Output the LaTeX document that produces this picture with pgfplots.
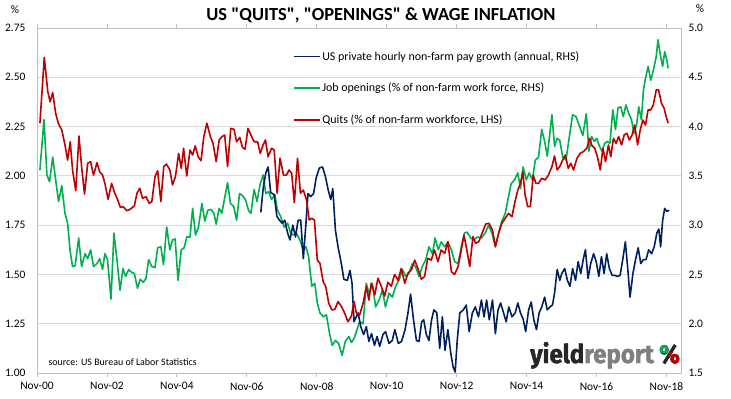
\documentclass[border=0pt]{standalone}
\usepackage{pgfplots}
\pgfplotsset{compat=1.18}
\usepackage{fontspec}
\setmainfont{Carlito}
\newfontfamily\logofont{Fira Sans}[FakeStretch=0.93, BoldFeatures={FakeBold=1.6, FakeStretch=0.93}]
\definecolor{navy}{HTML}{002060}
\definecolor{xgreen}{HTML}{00B050}
\definecolor{xred}{HTML}{C00000}
\definecolor{gridgrey}{HTML}{D9D9D9}
\definecolor{framegrey}{HTML}{BFBFBF}
\definecolor{logogrey}{HTML}{7F7F7F}
\definecolor{logodark}{HTML}{262626}

\pgfplotsset{
  common/.style={
    at={(37bp,25bp)}, anchor=south west,
    width=644bp, height=345bp, scale only axis,
    xmin=0, xmax=221,
    xtick={0,24,...,216},
    axis line style={framegrey, line width=0.8bp},
    ytick style={draw=none},
    tick label style={font=\fontsize{11.5}{13}\selectfont, text=black},
    /pgf/number format/assume math mode=true,
    /pgf/number format/fixed,
    /pgf/number format/fixed zerofill,
    clip=false,
  },
  ser/.style={line width=1.6bp, line join=round},
}

\begin{document}
\begin{tikzpicture}[x=1bp,y=1bp]
\path[use as bounding box] (0,0) rectangle (731,398);

% ---------- right axis: job openings and wage growth ----------
\begin{axis}[common,
  ymin=1.5, ymax=5, ytick={1.5,2,...,5},
  yticklabel pos=right,
  /pgf/number format/precision=1,
  ymajorgrids, grid style={gridgrey, line width=0.8bp},
  xticklabels={}, xtick style={draw=none},
  yticklabel style={xshift=4bp},
]
\addplot[ser, xgreen] coordinates {
(1,3.56) (2.4,4.07) (3.4,3.51) (4.3,3.44) (5.4,3.69) (6.4,3.46) (7.4,3.24) (8.5,3.40) (9.6,3.12) (10.5,3.02)
(11.4,2.73) (12.2,2.58) (13.1,2.59) (14.3,2.87) (15.3,2.58) (16.5,2.71) (17.4,2.66) (18.4,2.75) (19.4,2.58) (20.6,2.61)
(21.5,2.66) (22.5,2.55) (23.3,2.71) (24.2,2.65) (25.4,2.25) (26.4,2.92) (27.4,2.66) (28.5,2.34) (29.5,2.56) (30.4,2.48)
(31.5,2.55) (32.5,2.52) (33.4,2.51) (34.5,2.36) (35.4,2.45) (36.5,2.42) (37.4,2.46) (38.3,2.65) (39.4,2.58) (40.5,2.57)
(41.4,2.77) (42.5,2.78) (43.4,2.60) (44.5,2.98) (45.6,2.75) (46.5,2.85) (47.4,2.86) (48.4,2.44) (49.5,2.75) (50.5,2.77)
(51.4,2.88) (52.5,2.88) (53.4,3.17) (54.4,2.90) (55.4,2.98) (56.6,3.22) (57.6,3.04) (58.6,3.15) (59.7,3.16) (60.7,3.12)
(61.5,3.01) (62.5,3.17) (63.4,3.12) (64.3,3.26) (65.4,3.43) (66.4,3.22) (67.5,3.19) (68.5,3.05) (69.5,3.32) (70.5,3.30)
(71.5,3.26) (72.6,3.15) (73.4,3.12) (74.5,3.36) (75.5,3.24) (76.6,3.42) (77.6,3.51) (78.5,3.32) (79.5,3.34) (80.5,3.26)
(81.6,3.31) (82.5,3.15) (83.6,3.09) (84.8,2.98) (86,3.02) (87,2.92) (88,2.90) (89,2.92) (90.2,2.85) (91.3,2.75)
(92.3,2.78) (93.2,2.68) (94.3,2.38) (95.3,2.41) (96.2,2.21) (97.1,2.11) (98.2,2.07) (99.3,2.09) (100.4,1.90) (101.3,1.78)
(102.4,1.83) (103.5,1.80) (104.7,1.68) (105.8,1.82) (107,1.87) (107.9,1.81) (108.8,1.85) (109.6,1.92) (110.7,2.02) (111.9,2.00)
(113,2.41) (113.9,2.31) (115.1,2.41) (116.2,2.17) (117.4,2.24) (118.5,2.34) (119.6,2.17) (120.8,2.31) (121.9,2.27) (123.1,2.38)
(124.2,2.44) (125.4,2.55) (126.5,2.48) (127.6,2.51) (128.8,2.61) (129.9,2.58) (131.1,2.48) (132.2,2.58) (133.4,2.65) (134.5,2.78)
(135.7,2.71) (136.6,2.87) (137.7,2.75) (138.7,2.83) (139.9,2.78) (141,2.83) (142.2,2.75) (143.3,2.63) (144.5,2.61) (145.6,2.78)
(146.7,2.92) (147.6,2.93) (148.8,2.87) (149.9,2.85) (151.1,2.88) (152.5,2.87) (153.8,2.92) (155,3.00) (156.1,2.92) (157.3,2.78)
(158.4,2.92) (159.5,3.04) (160.7,3.12) (161.6,3.26) (162.7,3.42) (163.9,3.46) (165,3.53) (165.9,3.37) (166.8,3.59) (167.9,3.46)
(168.9,3.53) (170,3.46) (171,3.66) (172.1,3.69) (173.2,3.97) (174.2,3.85) (175.1,3.70) (175.9,3.91) (176.7,4.12) (177.6,3.80)
(178.5,3.88) (179.4,3.86) (180.4,3.69) (181.5,3.66) (182.7,3.90) (183.8,4.12) (185,4.10) (186.2,4.00) (187.3,3.91) (188.5,4.13)
(189.4,3.75) (190.3,3.90) (191.2,3.85) (192.1,3.88) (193,3.80) (193.9,3.75) (194.8,3.83) (195.7,3.85) (196.6,3.83) (197.6,4.17)
(198.5,3.97) (199.4,4.19) (200.3,4.20) (201.2,4.10) (202.1,4.22) (203.1,4.13) (204,4.07) (204.9,3.93) (205.8,4.03) (206.5,4.20)
(207.4,4.07) (208.1,4.37) (208.8,4.49) (209.7,4.61) (210.6,4.47) (211.5,4.57) (212.5,4.71) (213.1,4.88) (214,4.71) (214.7,4.61)
(215.4,4.76) (216.1,4.68) (216.6,4.59)
};
\addplot[ser, navy] coordinates {
(76.8,3.13) (77.6,3.37) (78.5,3.53) (79.3,3.59) (80.2,3.33) (81.4,3.31) (82.3,3.09) (83.2,3.05) (84.1,3.02) (85,3.05)
(86,2.92) (86.8,2.85) (87.8,3.00) (88.7,2.88) (89.6,3.05) (90.5,3.05) (91.4,2.66) (92.2,2.98) (93,3.32) (93.9,3.29)
(94.9,3.32) (95.8,3.48) (96.9,3.58) (98,3.59) (99,3.49) (99.9,3.36) (100.8,3.26) (101.5,3.37) (102.4,2.95) (103.3,2.78)
(104.5,2.60) (105.3,2.45) (106.5,2.44) (107.4,2.54) (108.1,2.41) (108.8,2.02) (109.1,2.04) (110.2,2.11) (111.1,1.97) (112.1,1.89)
(113,1.97) (113.9,1.82) (114.8,1.90) (115.8,1.78) (116.7,1.87) (117.6,1.77) (118.7,1.89) (119.6,1.92) (120.8,1.80) (121.9,1.83)
(122.8,1.94) (124,1.80) (125.1,1.82) (126.3,1.94) (127.3,2.11) (128.2,2.30) (129.2,2.04) (130.2,1.83) (131.1,1.82) (132,2.02)
(132.7,2.04) (133.6,1.89) (134.5,1.83) (135.4,2.04) (136.2,2.14) (137.2,2.11) (138.2,1.75) (139.1,2.07) (140,1.73) (141,1.94)
(142,1.70) (142.8,1.56) (143.5,1.51) (144.2,1.83) (145.1,2.11) (146.3,2.14) (147.3,2.19) (148.3,1.92) (149.4,2.11) (150.4,2.17)
(151.5,2.07) (152.5,2.24) (153.4,2.07) (154.3,2.24) (155.2,2.04) (156.3,2.24) (157.3,1.90) (158.2,2.14) (159.1,2.21) (160,2.12)
(161,2.02) (161.9,2.17) (163,2.07) (164.1,2.11) (165,2.21) (165.9,2.11) (166.8,2.05) (167.7,1.92) (168.7,2.14) (169.6,2.22)
(170.5,2.04) (171.4,1.94) (172.3,2.11) (173.2,2.17) (174.2,2.27) (175.1,2.14) (176,2.17) (176.9,2.19) (177.6,2.31) (178.5,2.55)
(179.4,2.44) (180.1,2.51) (181.1,2.56) (182,2.44) (182.9,2.38) (183.8,2.56) (184.8,2.44) (185.7,2.63) (186.6,2.51) (187.5,2.66)
(188.2,2.75) (189.1,2.46) (190,2.61) (191,2.71) (191.9,2.63) (192.8,2.48) (193.7,2.68) (194.6,2.51) (195.5,2.71) (196.4,2.56)
(197.4,2.49) (198.3,2.49) (199.2,2.48) (200.1,2.49) (201,2.65) (201.9,2.83) (202.8,2.53) (203.5,2.27) (204.5,2.51) (205.4,2.65)
(206.3,2.77) (207.2,2.61) (208.1,2.65) (209,2.65) (209.9,2.75) (210.9,2.71) (211.8,2.78) (212.7,2.92) (213.4,2.96) (214,2.78)
(214.7,3.05) (215.4,3.17) (216.1,3.14) (217,3.15)
};
\end{axis}

% ---------- left axis: quits ----------
\begin{axis}[common,
  ymin=1, ymax=2.75, ytick={1,1.25,...,2.75},
  yticklabel pos=left,
  /pgf/number format/precision=2,
  xticklabels={Nov-00,Nov-02,Nov-04,Nov-06,Nov-08,Nov-10,Nov-12,Nov-14,Nov-16,Nov-18},
  tick align=outside, major tick length=4bp,
  xtick style={framegrey, line width=0.8bp},
  xticklabel style={yshift=-2bp},
  yticklabel style={xshift=-4bp},
  legend cell align=left,
  legend style={at={(0.3975,0.937)}, anchor=north west, draw=none, fill=none,
    font=\fontsize{12}{14}\selectfont, row sep=18.5bp, inner sep=0pt,
    nodes={inner sep=1.5bp}},
  legend image code/.code={\draw[#1] (0bp,0bp) -- (26bp,0bp);},
]
\addlegendimage{ser, navy}
\addlegendentry{US private hourly non-farm pay growth (annual, RHS)}
\addlegendimage{ser, xgreen}
\addlegendentry{Job openings (\% of non-farm work force, RHS)}
\addplot[ser, xred] coordinates {
(1,2.267) (2.5,2.601) (3.7,2.427) (4.5,2.376) (5.4,2.422) (6.4,2.317) (7.3,2.267) (8.5,2.233) (9.6,2.157) (10.5,2.08)
(11.4,2.173) (12.2,2.03) (13.3,1.925) (14.4,2.202) (15.3,2.047) (16.3,1.908) (17.4,2.064) (18.4,2.072) (19.4,2.004) (20.6,2.067)
(21.5,2.021) (22.5,2.004) (23.3,1.962) (24.4,1.881) (25.6,1.962) (26.7,1.912) (27.7,1.878) (28.6,1.84) (29.6,1.844) (30.8,1.823)
(31.9,1.83) (33.4,1.847) (34.3,1.912) (35.3,1.937) (36.2,1.886) (37.4,1.894) (38.5,1.861) (39.4,1.869) (40.5,1.996) (41.4,2.026)
(42.5,1.869) (43.5,2.047) (44.4,2.06) (45.6,2.03) (46.5,1.954) (47.5,1.996) (48.6,2.114) (49.5,2.038) (50.3,2.14) (51.4,1.999)
(52.5,2.131) (53.4,2.106) (54.3,2.152) (55.3,2.097) (56.3,2.077) (57.2,2.195) (58.3,2.267) (59.5,2.199) (60.4,2.165) (61.5,2.072)
(62.5,2.182) (63.5,2.199) (64.4,2.207) (65.4,2.047) (66.5,2.241) (67.6,2.236) (68.5,2.173) (69.6,2.195) (70.5,2.145) (71.4,2.135)
(72.4,2.241) (73.4,2.207) (74.5,2.173) (75.7,2.173) (76.6,2.114) (77.6,2.157) (78.4,2.182) (79.3,2.097) (80.5,2.14) (81.4,2.131)
(82.4,1.912) (83.4,2.089) (84.6,2.004) (85.6,2.004) (86.5,2.03) (87.4,2.013) (88.3,1.864) (89.4,2.089) (90.4,1.912) (91.4,1.928)
(92.5,1.878) (93.4,1.776) (94.3,1.785) (95.2,1.776) (96.2,1.573) (97.1,1.556) (98.2,1.463) (99.1,1.438) (100.1,1.354) (101.2,1.32)
(102.2,1.323) (103.3,1.362) (104.5,1.337) (105.6,1.303) (106.7,1.26) (107.9,1.289) (108.8,1.362) (109.6,1.303) (110.7,1.294) (111.9,1.354)
(113,1.438) (113.9,1.37) (114.7,1.455) (115.9,1.396) (117,1.481) (118.2,1.438) (119.3,1.39) (120.4,1.46) (121.6,1.44) (122.7,1.50)
(123.9,1.47) (125,1.531) (126.2,1.455) (127.3,1.506) (128.5,1.523) (129.6,1.573) (130.7,1.531) (131.9,1.476) (133,1.489) (134.1,1.582)
(135.3,1.573) (136.4,1.624) (137.6,1.565) (138.7,1.624) (139.9,1.607) (141,1.666) (142.2,1.514) (143.3,1.50) (144.5,1.54) (145.6,1.624)
(146.5,1.70) (147.5,1.624) (148.5,1.54) (149.6,1.692) (150.5,1.658) (151.6,1.666) (152.7,1.708) (154,1.756) (155.1,1.759) (156.3,1.725)
(157.3,1.641) (158.4,1.708) (159.5,1.759) (160.7,1.785) (161.8,1.81) (163,1.793) (163.9,1.861) (165,1.928) (165.9,1.962) (166.7,2.021)
(167.5,1.903) (168.4,1.844) (169.3,1.844) (170.3,2.004) (171.2,1.962) (172.1,1.962) (173.2,1.988) (174.4,1.979) (175.5,2.004) (176.7,2.047)
(177.6,2.101) (178.5,2.03) (179.4,2.047) (180.4,2.081) (181.3,2.106) (182.3,2.038) (183.2,2.064) (184.1,2.03) (185.3,2.089) (186.4,2.114)
(187.5,2.123) (188.7,2.14) (189.6,2.19) (190.5,2.152) (191.4,2.14) (192.3,2.097) (193.3,2.03) (194.2,2.14) (195.1,2.072) (196.1,2.157)
(196.9,2.097) (197.8,2.19) (198.7,2.165) (199.6,2.199) (200.6,2.157) (201.5,2.207) (202.4,2.216) (203.3,2.182) (204.2,2.207) (205.1,2.258)
(206.1,2.157) (207,2.233) (207.9,2.283) (208.8,2.258) (209.7,2.334) (210.6,2.334) (211.5,2.36) (212.5,2.436) (213.3,2.436) (214.3,2.368)
(215.2,2.343) (215.9,2.30) (216.6,2.267)
};
\addlegendentry{Quits (\% of non-farm workforce, LHS)}
\end{axis}

% ---------- titles and annotations ----------
\node[font=\bfseries\fontsize{18.5}{21}\selectfont] at (381,383)
  {US \textquotedbl QUITS\textquotedbl, \textquotedbl OPENINGS\textquotedbl\ \& WAGE INFLATION};
\node[font=\fontsize{11.5}{13}\selectfont] at (15,388) {\%};
\node[font=\fontsize{11.5}{13}\selectfont] at (700,389) {\%};
\node[anchor=west, font=\fontsize{10}{12}\selectfont] at (45,35.5) {source: US Bureau of Labor Statistics};
\node[anchor=base west, inner sep=0pt, font=\logofont\bfseries\fontsize{26}{28}\selectfont] at (530,35)
  {\textcolor{logodark}{yield}\textcolor{logogrey}{report}};
\node[anchor=base west, inner sep=0pt, font=\logofont\bfseries\fontsize{26}{28}\selectfont, text=logodark] at (659,35) {\%};
\begin{scope}
\clip (655,46) rectangle (668,64);
\node[anchor=base west, inner sep=0pt, font=\logofont\bfseries\fontsize{26}{28}\selectfont, text=xgreen] at (659,35) {\%};
\end{scope}
\begin{scope}
\clip (669,30) rectangle (690,46);
\node[anchor=base west, inner sep=0pt, font=\logofont\bfseries\fontsize{26}{28}\selectfont, text=xred] at (659,35) {\%};
\end{scope}
\end{tikzpicture}
\end{document}
